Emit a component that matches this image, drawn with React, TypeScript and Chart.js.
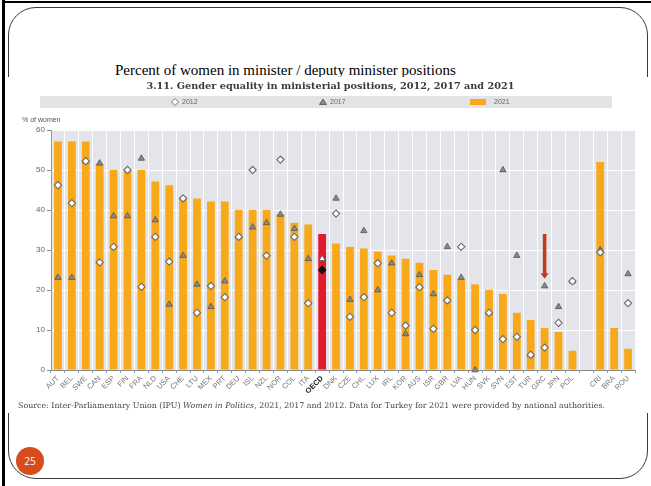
import React, { useEffect, useRef } from "react";
import { Chart, registerables } from "chart.js";

Chart.register(...registerables);

const categories = ["AUT","BEL","SWE","CAN","ESP","FIN","FRA","NLD","USA","CHE","LTU","MEX","PRT","DEU","ISL","NZL","NOR","COL","ITA","OECD","DNK","CZE","CHL","LUX","IRL","KOR","AUS","ISR","GBR","LVA","HUN","SVK","SVN","EST","TUR","GRC","JPN","POL","","CRI","BRA","ROU"];

const values2021 = [57.1,57.1,57.1,51.5,50,50,50,47.1,46.2,43.3,42.9,42.1,42.1,40,40,40,38.9,36.8,36.4,34,31.6,30.8,30.4,29.6,28.6,27.8,26.8,25,23.8,22.7,21.4,20,19,14.3,12.5,10.5,9.5,4.8,null,52,10.5,5.3];

const values2012 = [46.2,41.7,52.2,26.9,30.8,50,20.8,33.3,27.1,42.9,14.3,21,18.2,33.3,50,28.6,52.6,33.3,16.7,25,39.1,13.3,18.2,26.7,14.3,11.1,20.7,10.3,17.4,30.8,10,14.3,7.7,8.3,3.8,5.6,11.8,22.2,null,29.4,null,16.7];

const values2017 = [23.1,23.1,52.2,51.7,38.5,38.5,52.9,37.5,16.4,28.6,21.4,15.8,22.2,33.3,35.7,36.8,38.9,35.3,27.8,27.8,42.9,17.6,34.8,20,26.7,9,23.8,19,30.8,23.1,0,14.3,50,28.6,3.8,21,15.8,22.2,null,30,null,24];

const yTicks = [0, 10, 20, 30, 40, 50, 60];
const seriesNames = ["2012", "2017", "2021"];
const arrowCategory = "GRC";
const arrowFrom = 34;
const arrowTo = 22.8;

const ORANGE = "#F8A91A";
const RED = "#E01B2C";
const PLOT_BG = "#E4E5EA";
const NARROW = "'Liberation Sans Narrow', 'Liberation Sans', Arial, sans-serif";
const PX = 9;
const PY = 75;

const decor = {
  id: "decor",
  beforeDraw(chart: any) {
    const { ctx, chartArea: a } = chart;
    ctx.save();
    ctx.fillStyle = PLOT_BG;
    ctx.fillRect(a.left, a.top, a.right - a.left, a.bottom - a.top);
    // legend band
    ctx.fillStyle = "#E3E3E5";
    ctx.fillRect(40 - PX, 96 - PY, 572, 12);
    ctx.font = `7px ${NARROW}`;
    ctx.fillStyle = "#666";
    ctx.textBaseline = "middle";
    const cy = 102 - PY;
    let cx = 175 - PX;
    ctx.beginPath();
    ctx.moveTo(cx, cy - 3.5);
    ctx.lineTo(cx + 3.5, cy);
    ctx.lineTo(cx, cy + 3.5);
    ctx.lineTo(cx - 3.5, cy);
    ctx.closePath();
    ctx.fillStyle = "#fff";
    ctx.fill();
    ctx.strokeStyle = "#777";
    ctx.lineWidth = 1;
    ctx.stroke();
    ctx.fillStyle = "#666";
    ctx.fillText(seriesNames[0], 182 - PX, cy);
    cx = 323 - PX;
    ctx.beginPath();
    ctx.moveTo(cx, cy - 3);
    ctx.lineTo(cx + 3.5, cy + 2.5);
    ctx.lineTo(cx - 3.5, cy + 2.5);
    ctx.closePath();
    ctx.fillStyle = "#888";
    ctx.fill();
    ctx.strokeStyle = "#666";
    ctx.stroke();
    ctx.fillStyle = "#666";
    ctx.fillText(seriesNames[1], 330 - PX, cy);
    ctx.fillStyle = ORANGE;
    ctx.fillRect(470 - PX, 99 - PY, 16, 6);
    ctx.fillStyle = "#666";
    ctx.fillText(seriesNames[2], 494 - PX, cy);
    ctx.font = `7px ${NARROW}`;
    ctx.fillStyle = "#555";
    ctx.textBaseline = "alphabetic";
    ctx.fillText("% of women", 22 - PX, 122 - PY);
    ctx.restore();
  },
  afterDatasetsDraw(chart: any) {
    const { ctx, scales } = chart;
    const idx = categories.indexOf(arrowCategory);
    const x = scales.x.getPixelForValue(idx);
    const y1 = scales.y.getPixelForValue(arrowFrom);
    const y2 = scales.y.getPixelForValue(arrowTo);
    ctx.save();
    ctx.fillStyle = "#C03A1E";
    ctx.fillRect(x - 1.8, y1, 3.6, y2 - y1 - 5);
    ctx.beginPath();
    ctx.moveTo(x - 4, y2 - 5.5);
    ctx.lineTo(x + 4, y2 - 5.5);
    ctx.lineTo(x, y2);
    ctx.closePath();
    ctx.fill();
    ctx.restore();
  },
};

function ChartPanel() {
  const ref = useRef<HTMLCanvasElement>(null);
  useEffect(() => {
    if (!ref.current) return;
    const barColors = categories.map((c) => (c === "OECD" ? RED : ORANGE));
    const d12Fill = categories.map((c) => (c === "OECD" ? "#111" : "#fff"));
    const d12Border = categories.map((c) => (c === "OECD" ? "#111" : "#6a6a6a"));
    const t17Fill = categories.map((c) => (c === "OECD" ? "#fff" : "#8a8a8a"));
    const chart = new Chart(ref.current, {
      type: "bar",
      data: {
        labels: categories,
        datasets: [
          {
            type: "line",
            label: seriesNames[1],
            data: values2017,
            showLine: false,
            pointStyle: "triangle",
            pointRadius: 3.6,
            pointBackgroundColor: t17Fill,
            pointBorderColor: "#5a5a5a",
            pointBorderWidth: 0.9,
            order: 1,
            clip: false,
          } as any,
          {
            type: "line",
            label: seriesNames[0],
            data: values2012,
            showLine: false,
            pointStyle: "rectRot",
            pointRadius: 3.6,
            pointBackgroundColor: d12Fill,
            pointBorderColor: d12Border,
            pointBorderWidth: 1.1,
            order: 0,
            clip: false,
          } as any,
          {
            type: "bar",
            label: seriesNames[2],
            data: values2021,
            backgroundColor: barColors,
            barPercentage: 0.56,
            categoryPercentage: 1,
            order: 2,
          } as any,
        ],
      },
      options: {
        responsive: false,
        animation: false,
        devicePixelRatio: 1,
        layout: { padding: { left: 0, right: 15, top: 55, bottom: 0 } },
        plugins: { legend: { display: false }, tooltip: { enabled: false }, title: { display: false } },
        scales: {
          x: {
            offset: true,
            grid: { color: "#ffffff", lineWidth: 1, offset: true, tickColor: "#999", tickLength: 3 },
            border: { color: "#8a8a8a", width: 1 },
            ticks: {
              autoSkip: false,
              minRotation: 45,
              maxRotation: 45,
              padding: 1,
              font: (c: any) => ({
                family: NARROW,
                size: 7.5,
                weight: categories[c.index] === "OECD" ? "bold" : "normal",
              }),
              color: (c: any) => (categories[c.index] === "OECD" ? "#222" : "#777"),
            },
            afterFit: (s: any) => {
              s.height = 43;
            },
          },
          y: {
            min: yTicks[0],
            max: yTicks[yTicks.length - 1],
            afterBuildTicks: (s: any) => {
              s.ticks = yTicks.map((v) => ({ value: v }));
            },
            grid: { color: "#ffffff", lineWidth: 1, tickColor: "#888", tickLength: 4 },
            border: { color: "#9a9a9a", width: 1 },
            ticks: { font: { family: NARROW, size: 8 }, color: "#666", padding: 2 },
            afterFit: (s: any) => {
              s.width = 42;
            },
          },
        },
      },
      plugins: [decor],
    });
    return () => chart.destroy();
  }, []);
  return <canvas ref={ref} width={641} height={338} style={{ display: "block", width: 641, height: 338 }} />;
}

export default function App() {
  return (
    <div style={{ position: "absolute", left: 0, top: 0, width: 651, height: 486, background: "#fff", overflow: "hidden" }}>
      <div style={{ position: "absolute", left: 2, top: 0, width: 3, height: 486, background: "#000" }} />
      <div style={{ position: "absolute", left: 2, top: 1, width: 649, height: 2, background: "#000" }} />
      <div
        style={{
          position: "absolute",
          left: 8,
          top: 7,
          width: 640,
          height: 472,
          border: "1.5px solid #3a3a3a",
          borderRadius: 28,
          boxSizing: "border-box",
        }}
      />
      <div
        style={{
          position: "absolute",
          left: 115,
          top: 61,
          fontFamily: "'Liberation Serif', 'Times New Roman', serif",
          fontSize: 15,
          lineHeight: "18px",
          color: "#000",
          whiteSpace: "nowrap",
        }}
      >
        Percent of women in minister / deputy minister positions
      </div>
      <div style={{ position: "absolute", left: 6, top: 77, width: 645, height: 336, background: "#fff" }} />
      <div style={{ position: "absolute", left: PX, top: PY, width: 641, height: 338 }}>
        <ChartPanel />
      </div>
      <div
        style={{
          position: "absolute",
          left: 0,
          width: 651,
          top: 80,
          textAlign: "center",
          fontFamily: "'DejaVu Serif', serif",
          fontWeight: "bold",
          fontSize: 9.7,
          lineHeight: "12px",
          color: "#3a3a3a",
          whiteSpace: "nowrap",
          paddingLeft: 10,
          boxSizing: "border-box",
        }}
      >
        3.11. Gender equality in ministerial positions, 2012, 2017 and 2021
      </div>
      <div
        style={{
          position: "absolute",
          left: 18,
          top: 401,
          fontFamily: "'DejaVu Serif', serif",
          fontSize: 7.9,
          lineHeight: "10px",
          color: "#444",
          whiteSpace: "nowrap",
        }}
      >
        Source: Inter-Parliamentary Union (IPU) <i>Women in Politics</i>, 2021, 2017 and 2012. Data for Turkey for 2021 were provided by national authorities.
      </div>
      <div
        style={{
          position: "absolute",
          left: 16,
          top: 447,
          width: 28,
          height: 28,
          borderRadius: "50%",
          background: "#D84B1C",
          color: "#fff",
          fontFamily: "'Open Sans', sans-serif",
          fontSize: 10,
          lineHeight: "28px",
          textAlign: "center",
        }}
      >
        25
      </div>
    </div>
  );
}
